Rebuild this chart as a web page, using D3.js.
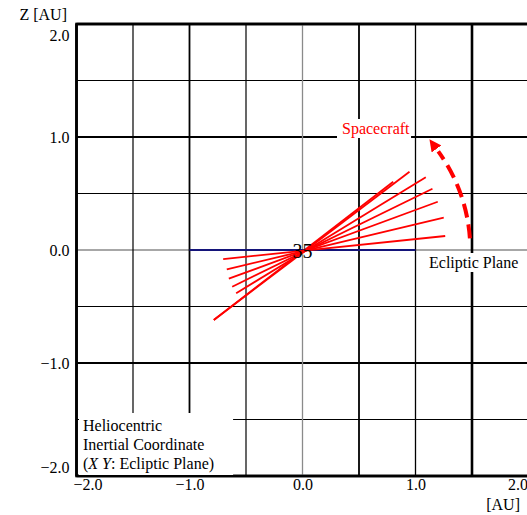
<!DOCTYPE html>
<html>
<head>
<meta charset="utf-8">
<script src="https://cdn.jsdelivr.net/npm/d3@7"></script>
<style>
  body { margin: 0; background: #fff; }
  svg { display: block; }
  text { font-family: "Liberation Serif", "Times New Roman", serif; }
</style>
</head>
<body>
<svg id="chart" width="527" height="515"></svg>
<script>
// axis ticks [AU]
const xTicks = [-2, -1, 0, 1, 2]
const zTicks = [-2, -1, 0, 1, 2]

// grid lines every 0.5 AU, with their stroke weight
const gridValues = [-2, -1.5, -1, -0.5, 0, 0.5, 1, 1.5, 2]
const vGridWeights = [2.6, 1.2, 1.8, 1.2, 1.3, 1.8, 1.3, 2.6, 2.6]
const hGridWeights = [2.6, 1.2, 1.9, 1.2, 1.3, 1.2, 1.9, 1.2, 2.6]

// spacecraft axis lines: lower end (x1, z1) -> upper end (x2, z2)
const lineX1 = [-0.785, -0.785, -0.587, -0.622, -0.652, -0.670, -0.702]
const lineZ1 = [-0.619, -0.619, -0.383, -0.325, -0.254, -0.171, -0.080]
const lineX2 = [0.947, 0.803, 1.091, 1.150, 1.197, 1.250, 1.263]
const lineZ2 = [0.693, 0.604, 0.643, 0.542, 0.427, 0.286, 0.124]

// ecliptic plane segment (navy) and rotation arrow (degrees)
const eclipticX = [-1, 1]
const arrowRadius = 1.485
const arrowAngles = [4, 36]

const svg = d3.select("#chart")

const x = d3.scaleLinear().domain([-2, 2]).range([76.5, 528.5])
const z = d3.scaleLinear().domain([-2, 2]).range([476, 24])

// grid
const grid = svg.append("g")
grid.selectAll(".hgrid")
  .data(gridValues)
  .join("line")
  .attr("x1", x(-2)).attr("x2", x(2))
  .attr("y1", d => z(d)).attr("y2", d => z(d))
  .attr("stroke", d => d === 0 ? "#8a8a8a" : "#000")
  .attr("stroke-width", (d, i) => hGridWeights[i])

grid.selectAll(".vgrid")
  .data(gridValues)
  .join("line")
  .attr("y1", z(-2)).attr("y2", z(2))
  .attr("x1", d => x(d)).attr("x2", d => x(d))
  .attr("stroke", d => d === 0 ? "#8a8a8a" : "#000")
  .attr("stroke-width", (d, i) => vGridWeights[i])

// frame
svg.append("rect")
  .attr("x", x(-2)).attr("y", z(2))
  .attr("width", x(2) - x(-2)).attr("height", z(-2) - z(2))
  .attr("fill", "none").attr("stroke", "#000").attr("stroke-width", 2.6)

// ecliptic segment
svg.append("line")
  .attr("x1", x(eclipticX[0])).attr("x2", x(eclipticX[1]))
  .attr("y1", z(0)).attr("y2", z(0))
  .attr("stroke", "#14147a").attr("stroke-width", 2.2)

// axes (labels only)
const fmt = d3.format(".1f")

const yAxis = svg.append("g")
  .attr("transform", `translate(${x(-2)},0)`)
  .call(d3.axisLeft(z).tickValues(zTicks).tickSize(0).tickPadding(7).tickFormat(fmt))
yAxis.select(".domain").remove()
yAxis.selectAll("text")
  .attr("font-family", "Liberation Serif, serif")
  .attr("font-size", 16)
  .attr("fill", "#000")
  .attr("dy", d => d === 2 ? "1.0em" : d === -2 ? "-0.25em" : "0.32em")

const xAxis = svg.append("g")
  .attr("transform", `translate(0,${z(-2)})`)
  .call(d3.axisBottom(x).tickValues(xTicks).tickSize(0).tickPadding(3).tickFormat(fmt))
xAxis.select(".domain").remove()
xAxis.selectAll("text")
  .attr("font-family", "Liberation Serif, serif")
  .attr("font-size", 16)
  .attr("fill", "#000")
  .attr("dx", d => d === -2 ? 11 : d === 2 ? -11 : 0)

svg.append("text")
  .attr("x", 67).attr("y", 20)
  .attr("text-anchor", "end")
  .attr("font-size", 16)
  .text("Z [AU]")

svg.append("text")
  .attr("x", 520).attr("y", 510)
  .attr("text-anchor", "end")
  .attr("font-size", 16)
  .text("[AU]")

// labels with white backing
function boxedLabel(lines, tx, ty, color, pad) {
  const g = svg.append("g")
  const bg = g.append("rect").attr("fill", "#fff")
  const t = g.append("text")
    .attr("x", tx).attr("y", ty)
    .attr("font-size", 16)
    .attr("fill", color)
  lines.forEach((l, i) => {
    t.append("tspan").attr("x", tx).attr("dy", i === 0 ? 0 : 19).html(l)
  })
  const b = t.node().getBBox()
  bg.attr("x", b.x - pad[3]).attr("y", b.y - pad[0])
    .attr("width", b.width + pad[1] + pad[3])
    .attr("height", b.height + pad[0] + pad[2])
}

boxedLabel(["Spacecraft"], 342, 134, "#ff0000", [1, 1, 0, 5])
boxedLabel(["Ecliptic Plane"], 429, 268, "#000", [1, 12, 0, 2])
boxedLabel([
  "Heliocentric",
  "Inertial Coordinate",
  '(<tspan font-style="italic">X Y</tspan>: Ecliptic Plane)'
], 83, 431, "#000", [4, 19, 2, 4])

// spacecraft lines
svg.append("g")
  .selectAll("line")
  .data(d3.range(lineX1.length))
  .join("line")
  .attr("x1", i => x(lineX1[i])).attr("y1", i => z(lineZ1[i]))
  .attr("x2", i => x(lineX2[i])).attr("y2", i => z(lineZ2[i]))
  .attr("stroke", "#ff0000")
  .attr("stroke-width", 1.8)

// rotation arrow
const defs = svg.append("defs")
defs.append("marker")
  .attr("id", "head")
  .attr("markerUnits", "userSpaceOnUse")
  .attr("markerWidth", 14).attr("markerHeight", 12)
  .attr("viewBox", "0 0 14 12")
  .attr("refX", -3).attr("refY", 6)
  .attr("orient", "auto")
  .append("path")
  .attr("d", "M0,0 L12,6 L0,12 Z")
  .attr("fill", "#ff0000")

const rad = x(arrowRadius) - x(0)
const p = d3.path()
const a0 = -arrowAngles[0] * Math.PI / 180
const a1 = -arrowAngles[1] * Math.PI / 180
p.moveTo(x(0) + rad * Math.cos(a0), z(0) + rad * Math.sin(a0))
p.arc(x(0), z(0), rad, a0, a1, true)

svg.append("path")
  .attr("d", p.toString())
  .attr("fill", "none")
  .attr("stroke", "#ff0000")
  .attr("stroke-width", 4)
  .attr("stroke-dasharray", "14,7")
  .attr("marker-end", "url(#head)")

// case number
svg.append("text")
  .attr("x", x(0)).attr("y", z(0) + 8)
  .attr("text-anchor", "middle")
  .attr("font-family", "Liberation Sans, Arial, sans-serif")
  .attr("font-size", 20)
  .attr("fill", "#000")
  .text("35")
</script>
</body>
</html>
